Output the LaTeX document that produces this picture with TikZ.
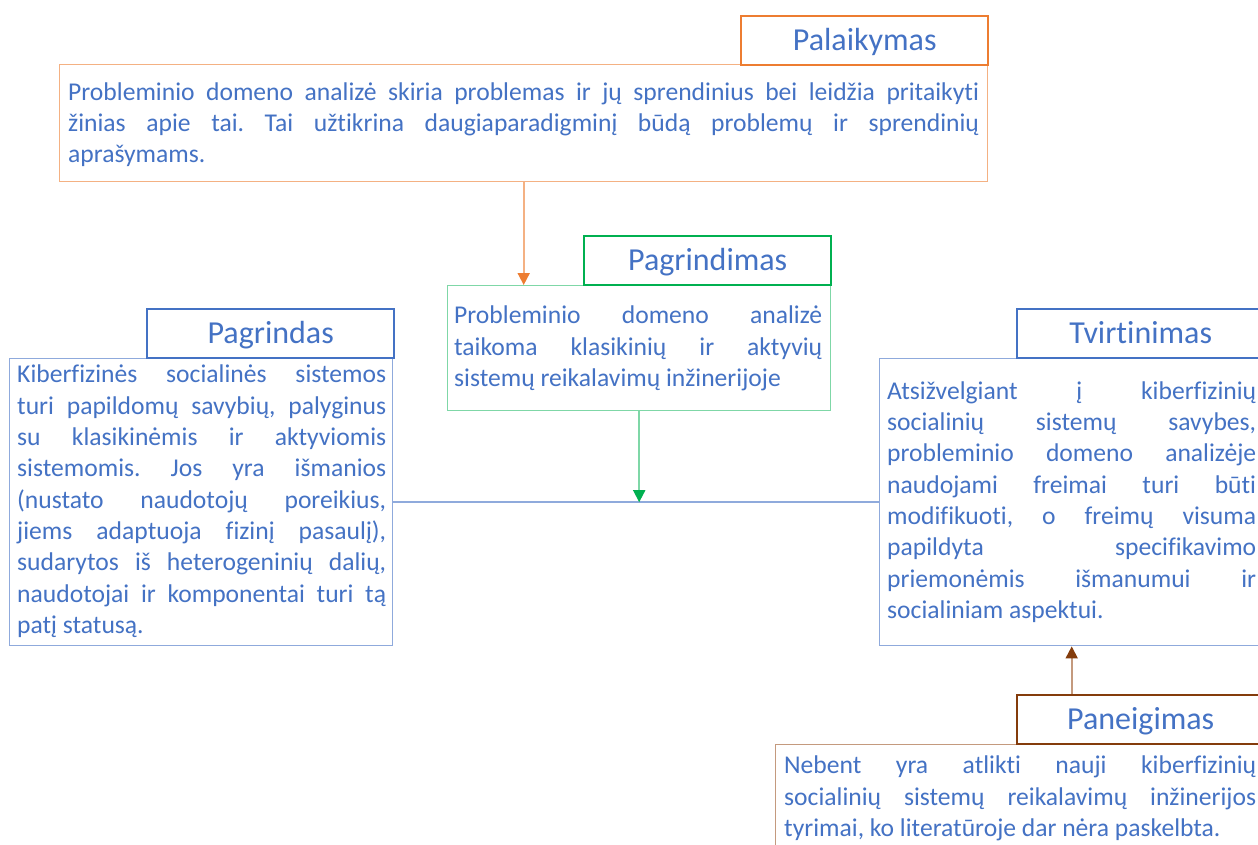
\documentclass[tikz,border=0pt]{standalone}
\usepackage{fontspec}
\setmainfont{Carlito}[Ligatures={NoCommon}]
\usetikzlibrary{arrows.meta}

\definecolor{orangeC}{HTML}{ED7D31}
\definecolor{orangeL}{HTML}{F4B183}
\definecolor{greenC}{HTML}{00B050}
\definecolor{greenL}{HTML}{7FD7A7}
\definecolor{blueC}{HTML}{4472C4}
\definecolor{blueL}{HTML}{8FAADC}
\definecolor{brownC}{HTML}{843C0C}
\definecolor{brownL}{HTML}{C49A7E}
\definecolor{txt}{HTML}{4472C4}

\frenchspacing
% one justified line of a paragraph
\newcommand{\jl}[1]{\makebox[\linewidth][s]{#1}\par}
% body paragraph: width, height of first line above its baseline, lines
\newcommand{\bodypar}[3]{\parbox[t]{#1}{\fontsize{25.6pt}{31.3pt}\selectfont\frenchspacing\parindent=0pt\lineskiplimit=-20pt\leavevmode\rule{0pt}{#2}#3}}

\begin{document}
\begin{tikzpicture}[x=1pt,y=-1pt,
  titlebox/.style={draw=#1, line width=2.4pt, fill=white, minimum width=247pt,
    minimum height=49pt, inner sep=0pt, anchor=north west,
    font=\fontsize{32pt}{37pt}\selectfont, text=txt, text height=20.5pt, text depth=0pt},
  bodybox/.style={draw=#1, line width=1.4pt, inner sep=0pt, anchor=north west},
  bodytext/.style={inner sep=0pt, anchor=north west, text=txt},
  conn/.style={draw=#1, line width=1.8pt}]

\clip (0,0) rectangle (1258,844);
\fill[white] (0,0) rectangle (1258,844);

% body boxes
\node[bodybox=orangeL, minimum width=928pt, minimum height=117pt] (supBody) at (59,64) {};
\node[bodybox=greenL, minimum width=383pt, minimum height=125pt] (justBody) at (447,285) {};
\node[bodybox=blueL, minimum width=383pt, minimum height=287pt] (groundBody) at (9,358) {};
\node[bodybox=blueL, minimum width=384pt, minimum height=287pt] (claimBody) at (879,358) {};
\node[bodybox=brownL, minimum width=488pt, minimum height=130pt] (rebBody) at (775,744) {};

% title boxes
\node[titlebox=orangeC] (supTitle) at (740,15) {Palaikymas};
\node[titlebox=greenC] (justTitle) at (583,235) {Pagrindimas};
\node[titlebox=blueC] (groundTitle) at (146,308) {Pagrindas};
\node[titlebox=blueC] (claimTitle) at (1016,308) {Tvirtinimas};
\node[titlebox=brownC] (rebTitle) at (1016,694) {Paneigimas};

% texts
\node[bodytext] (supText) at (68,64) {\bodypar{911pt}{36pt}{%
\jl{Probleminio domeno analizė skiria problemas ir jų sprendinius bei leidžia pritaikyti}
\jl{žinias apie tai. Tai užtikrina daugiaparadigminį būdą problemų ir sprendinių}
aprašymams.}};

\node[bodytext] (justText) at (454,285) {\bodypar{368pt}{38.5pt}{%
\jl{Probleminio domeno analizė}
\jl{taikoma klasikinių ir aktyvių}
sistemų reikalavimų inžinerijoje}};

\node[bodytext] (groundText) at (17,358) {\bodypar{369pt}{24.7pt}{%
\jl{Kiberfizinės socialinės sistemos}
\jl{turi papildomų savybių, palyginus}
\jl{su klasikinėmis ir aktyviomis}
\jl{sistemomis. Jos yra išmanios}
\jl{(nustato naudotojų poreikius,}
\jl{jiems adaptuoja fizinį pasaulį),}
\jl{sudarytos iš heterogeninių dalių,}
\jl{naudotojai ir komponentai turi tą}
patį statusą.}};

\node[bodytext] (claimText) at (887,358) {\bodypar{369pt}{41pt}{%
\jl{Atsižvelgiant į kiberfizinių}
\jl{socialinių sistemų savybes,}
\jl{probleminio domeno analizėje}
\jl{naudojami freimai turi būti}
\jl{modifikuoti, o freimų visuma}
\jl{papildyta specifikavimo}
\jl{priemonėmis išmanumui ir}
socialiniam aspektui.}};

\node[bodytext] (rebText) at (784,744) {\bodypar{472pt}{29.5pt}{%
\jl{Nebent yra atlikti nauji kiberfizinių}
\jl{socialinių sistemų reikalavimų inžinerijos}
tyrimai, ko literatūroje dar nėra paskelbta.}};

% connectors
\draw[conn=orangeL, -{Triangle[length=12pt,width=12pt,color=orangeC]}]
  (supBody.south) -- (supBody.south |- justBody.north);
\draw[conn=blueL] (groundBody.east) -- (claimBody.west);
\draw[conn=greenL, -{Triangle[length=12pt,width=12pt,color=greenC]}]
  (justBody.south) -- (justBody.south |- groundBody.east);
\draw[conn=brownL, -{Triangle[length=12pt,width=12pt,color=brownC]}]
  (claimBody.south |- rebTitle.north) -- (claimBody.south);
\end{tikzpicture}
\end{document}
